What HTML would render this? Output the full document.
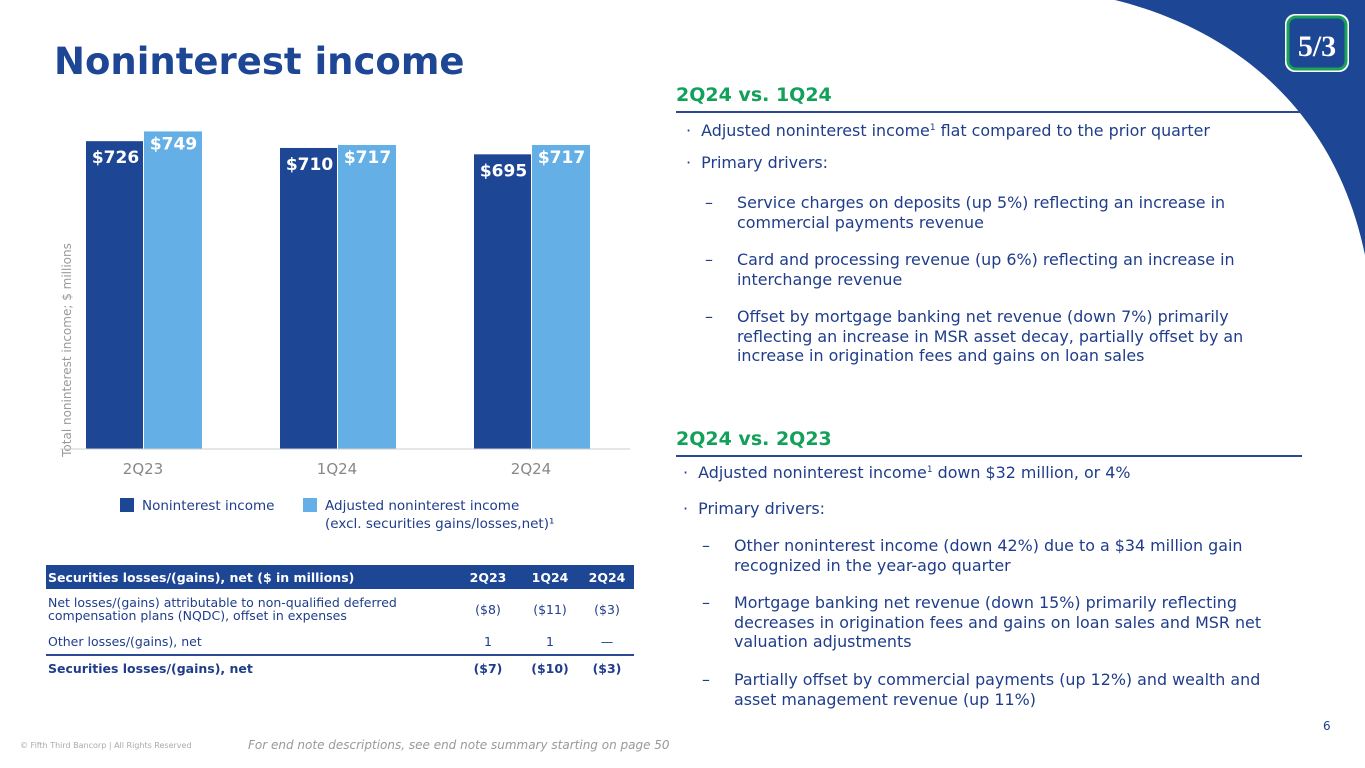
<!DOCTYPE html>
<html><head><meta charset="utf-8"><style>
body{margin:0;width:1365px;height:768px;overflow:hidden;background:#fff;position:relative;font-family:"DejaVu Sans","Liberation Sans",sans-serif;color:#1f3d8b}
.a{position:absolute;white-space:nowrap}
.t{font-size:15.9px;line-height:19.5px;color:#1f3d8b}
.h{font-size:19px;font-weight:bold;color:#13a05a}
.rule{position:absolute;height:2px;background:#2a4a94}
sup{font-size:9px;vertical-align:6px}
table{border-collapse:collapse}
</style></head><body>
<svg class="a" style="left:0;top:0" width="1365" height="768">
<path d="M1115,0 C1235,30 1335,110 1365,255 L1365,0 Z" fill="#1d4694"/>
<rect x="1285" y="14" width="64" height="58" rx="10" fill="#fff"/>
<rect x="1288" y="17" width="58" height="52" rx="8" fill="#1d4694" stroke="#19a35a" stroke-width="3"/>
<text x="1317" y="56" font-size="30" font-weight="bold" fill="#fff" text-anchor="middle" font-family="Liberation Serif">5/3</text>
</svg>
<div class="a" style="left:54px;top:40px;font-size:37px;font-weight:bold;color:#1d4694">Noninterest income</div>

<svg id="chart" class="a" style="left:0;top:100px" width="660" height="440"></svg>

<div class="a" style="left:46px;top:565px;width:590px">
<table style="width:588px;font-size:12.5px;color:#1f3d8b">
<tr style="background:#1d4694;color:#fff;height:24px;font-weight:bold"><td style="padding-left:2px">Securities losses/(gains), net ($ in millions)</td><td style="text-align:center;width:62px">2Q23</td><td style="text-align:center;width:58px">1Q24</td><td style="text-align:center;width:52px">2Q24</td></tr>
<tr style="height:40px"><td style="padding-left:2px;line-height:13px">Net losses/(gains) attributable to non-qualified deferred<br>compensation plans (NQDC), offset in expenses</td><td style="text-align:center">($8)</td><td style="text-align:center">($11)</td><td style="text-align:center">($3)</td></tr>
<tr style="height:26px;border-bottom:2px solid #2a4a94"><td style="padding-left:2px">Other losses/(gains), net</td><td style="text-align:center">1</td><td style="text-align:center">1</td><td style="text-align:center">—</td></tr>
<tr style="height:26px;font-weight:bold"><td style="padding-left:2px">Securities losses/(gains), net</td><td style="text-align:center">($7)</td><td style="text-align:center">($10)</td><td style="text-align:center">($3)</td></tr>
</table></div>

<div class="a" style="left:20px;top:741px;font-size:8px;color:#aaa">© Fifth Third Bancorp | All Rights Reserved</div>
<div class="a" style="left:248px;top:738px;font-size:12px;color:#999;font-style:italic">For end note descriptions, see end note summary starting on page 50</div>
<div class="a" style="left:1323px;top:719px;font-size:12px;color:#1f3d8b">6</div>

<div class="a h" style="left:676px;top:84px">2Q24 vs. 1Q24</div>
<div class="rule" style="left:676px;top:111px;width:626px"></div>
<div class="a t" style="left:686px;top:119px">·&nbsp;&nbsp;Adjusted noninterest income<sup>1</sup> flat compared to the prior quarter</div>
<div class="a t" style="left:686px;top:153px">·&nbsp;&nbsp;Primary drivers:</div>
<div class="a t" style="left:705px;top:193px">–</div>
<div class="a t" style="left:737px;top:193px">Service charges on deposits (up 5%) reflecting an increase in<br>commercial payments revenue</div>
<div class="a t" style="left:705px;top:250px">–</div>
<div class="a t" style="left:737px;top:250px">Card and processing revenue (up 6%) reflecting an increase in<br>interchange revenue</div>
<div class="a t" style="left:705px;top:307px">–</div>
<div class="a t" style="left:737px;top:307px">Offset by mortgage banking net revenue (down 7%) primarily<br>reflecting an increase in MSR asset decay, partially offset by an<br>increase in origination fees and gains on loan sales</div>

<div class="a h" style="left:676px;top:428px">2Q24 vs. 2Q23</div>
<div class="rule" style="left:676px;top:455px;width:626px"></div>
<div class="a t" style="left:683px;top:461px">·&nbsp;&nbsp;Adjusted noninterest income<sup>1</sup> down $32 million, or 4%</div>
<div class="a t" style="left:683px;top:499px">·&nbsp;&nbsp;Primary drivers:</div>
<div class="a t" style="left:702px;top:536px">–</div>
<div class="a t" style="left:734px;top:536px">Other noninterest income (down 42%) due to a $34 million gain<br>recognized in the year-ago quarter</div>
<div class="a t" style="left:702px;top:593px">–</div>
<div class="a t" style="left:734px;top:593px">Mortgage banking net revenue (down 15%) primarily reflecting<br>decreases in origination fees and gains on loan sales and MSR net<br>valuation adjustments</div>
<div class="a t" style="left:702px;top:670px">–</div>
<div class="a t" style="left:734px;top:670px">Partially offset by commercial payments (up 12%) and wealth and<br>asset management revenue (up 11%)</div>

<script>
const categories=["2Q23","1Q24","2Q24"];
const nonint=[726,710,695];
const adjusted=[749,717,717];
const svg=document.getElementById('chart');
const NS='http://www.w3.org/2000/svg';
const base=349, scale=0.424, x0=86, step=194, bw=57;
function y(v){return base-v*scale;}
function mk(t,a){const e=document.createElementNS(NS,t);for(const k in a)e.setAttribute(k,a[k]);svg.appendChild(e);return e;}
const yt=mk('text',{x:0,y:0,transform:'translate(71,250) rotate(-90)','text-anchor':'middle','font-size':'12',fill:'#999','font-family':'DejaVu Sans'});
yt.textContent='Total noninterest income; $ millions';


categories.forEach((c,i)=>{
  const xa=x0+i*step;
  [[nonint[i],'#1d4694',xa],[adjusted[i],'#64afe6',xa+bw+1]].forEach(([v,col,xx],j)=>{
    const r=mk('rect',{x:xx,y:y(v),width:bw+(j?1:0),height:base-y(v),fill:col});
    
    
    const t=mk('text',{x:xx+bw/2+1,y:y(v)+(j?18:22),'text-anchor':'middle','font-size':'17',fill:'#fff','font-weight':'bold','font-family':'DejaVu Sans'});
    t.textContent='$'+v;
    
    
  });
  const l=mk('text',{x:xa+bw,y:374,'text-anchor':'middle','font-size':'15',fill:'#888','font-family':'DejaVu Sans'});
  l.textContent=c;
  
  
});
const ax=mk('line',{x1:60,x2:630,y1:base,y2:base,stroke:'#ccc','stroke-width':1});


const l1=mk('rect',{x:120,y:398,width:14,height:14,fill:'#1d4694'});


const lt1=mk('text',{x:142,y:410,'font-size':'13.5',fill:'#1f3d8b','font-family':'DejaVu Sans'});
lt1.textContent='Noninterest income';


const l2=mk('rect',{x:303,y:398,width:14,height:14,fill:'#64afe6'});


const lt2=mk('text',{x:325,y:410,'font-size':'13.5',fill:'#1f3d8b','font-family':'DejaVu Sans'});
lt2.textContent='Adjusted noninterest income';


const lt3=mk('text',{x:325,y:428,'font-size':'13.5',fill:'#1f3d8b','font-family':'DejaVu Sans'});
lt3.textContent='(excl. securities gains/losses,net)¹';


</script>
</body></html>
